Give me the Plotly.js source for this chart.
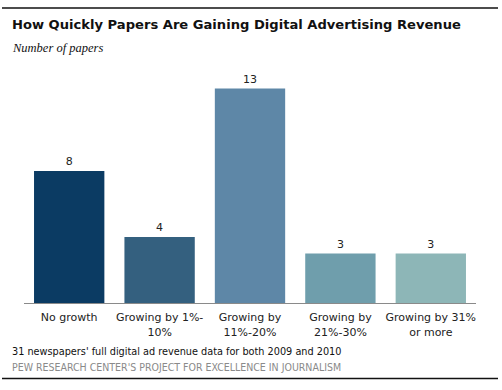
<!DOCTYPE html>
<html>
<head>
<meta charset="utf-8">
<script src="https://cdn.plot.ly/plotly-3.0.1.min.js"></script>
<style>
html,body{margin:0;padding:0;background:#fff;}
#chart{width:502px;height:390px;}
</style>
</head>
<body>
<div id="chart"></div>
<script>
const categories = ["No growth", "Growing by 1%-<br>10%", "Growing by<br>11%-20%", "Growing by<br>21%-30%", "Growing by 31%<br>or more"];
const values = [8, 4, 13, 3, 3];
const barColors = ["#0b3b63", "#34607f", "#5e87a7", "#6f9eac", "#8db6b7"];

const W = 502, H = 390;
const M = {l: 24, r: 26, t: 72, b: 87};
const PW = W - M.l - M.r, PH = H - M.t - M.b;
const px = x => (x - M.l) / PW;
const py = y => (H - M.b - y) / PH;

const trace = {
  type: 'bar',
  x: categories,
  y: values,
  marker: {color: barColors},
  text: values.map(String),
  textposition: 'outside',
  textfont: {family: 'DejaVu Sans, Verdana, sans-serif', size: 11, color: '#222'},
  cliponaxis: false,
  hoverinfo: 'none'
};

const layout = {
  width: W, height: H,
  margin: M,
  paper_bgcolor: '#fff',
  plot_bgcolor: '#fff',
  showlegend: false,
  bargap: 0.222,
  xaxis: {
    showline: true, linecolor: '#8a8a8a', linewidth: 1,
    ticks: '', showgrid: false, zeroline: false,
    ticklabelstandoff: 4,
    tickfont: {family: 'DejaVu Sans, Verdana, sans-serif', size: 11, color: '#222'},
    fixedrange: true
  },
  yaxis: {
    range: [0, 14], visible: false, showgrid: false, zeroline: false, fixedrange: true
  },
  shapes: [
    {type: 'line', xref: 'paper', yref: 'paper', x0: px(2), x1: px(498), y0: py(8), y1: py(8), line: {color: '#111', width: 1.5}},
    {type: 'line', xref: 'paper', yref: 'paper', x0: px(2), x1: px(498), y0: py(378.5), y1: py(378.5), line: {color: '#111', width: 1.5}}
  ],
  annotations: [
    {xref: 'paper', yref: 'paper', x: px(10), y: py(25), xanchor: 'left', yanchor: 'middle', showarrow: false,
     text: '<b>How Quickly Papers Are Gaining Digital Advertising Revenue</b>',
     font: {family: 'DejaVu Sans, Verdana, sans-serif', size: 13.1, color: '#111'}},
    {xref: 'paper', yref: 'paper', x: px(10), y: py(48), xanchor: 'left', yanchor: 'middle', showarrow: false,
     text: '<i>Number of papers</i>',
     font: {family: 'Liberation Serif, Georgia, serif', size: 12.5, color: '#111'}},
    {xref: 'paper', yref: 'paper', x: px(10), y: py(351), xanchor: 'left', yanchor: 'middle', showarrow: false,
     text: "31 newspapers' full digital ad revenue data for both 2009 and 2010",
     font: {family: 'DejaVu Sans Condensed, Tahoma, sans-serif', size: 10.8, color: '#111'}},
    {xref: 'paper', yref: 'paper', x: px(10), y: py(367), xanchor: 'left', yanchor: 'middle', showarrow: false,
     text: "PEW RESEARCH CENTER'S PROJECT FOR EXCELLENCE IN JOURNALISM",
     font: {family: 'DejaVu Sans Condensed, Tahoma, sans-serif', size: 10.5, color: '#8a8a8a'}}
  ]
};

Plotly.newPlot('chart', [trace], layout, {displayModeBar: false, staticPlot: true});
</script>
</body>
</html>
